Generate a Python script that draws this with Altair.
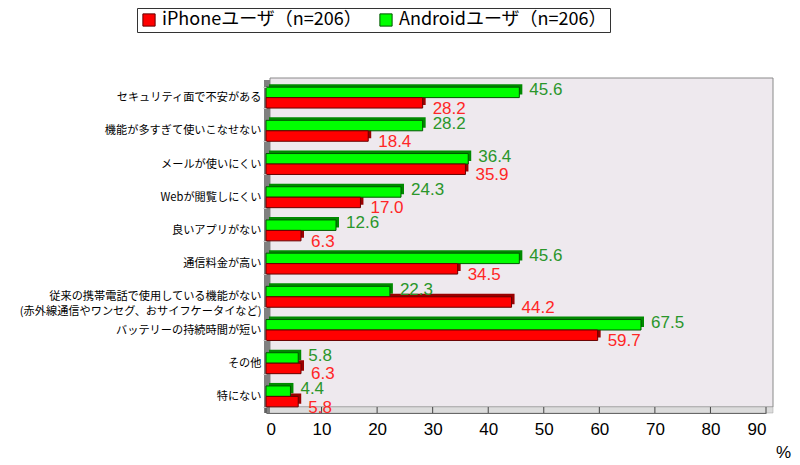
import altair as alt
import pandas as pd

categories = [
    "セキュリティ面で不安がある",
    "機能が多すぎて使いこなせない",
    "メールが使いにくい",
    "Webが閲覧しにくい",
    "良いアプリがない",
    "通信料金が高い",
    "従来の携帯電話で使用している機能がない\n(赤外線通信やワンセグ、おサイフケータイなど)",
    "バッテリーの持続時間が短い",
    "その他",
    "特にない",
]
iphone = [28.2, 18.4, 35.9, 17.0, 6.3, 34.5, 44.2, 59.7, 6.3, 5.8]
android = [45.6, 28.2, 36.4, 24.3, 12.6, 45.6, 22.3, 67.5, 5.8, 4.4]
series_names = ["iPhoneユーザ（n=206）", "Androidユーザ（n=206）"]
x_ticks = [0, 10, 20, 30, 40, 50, 60, 70, 80, 90]

df = pd.concat([
    pd.DataFrame({"category": categories, "value": android, "series": series_names[1]}),
    pd.DataFrame({"category": categories, "value": iphone, "series": series_names[0]}),
], ignore_index=True)
df_ticks = pd.DataFrame({"t": x_ticks})
one = pd.DataFrame({"a": [0]})

W, H = 500, 332
PAD_IN = 0.37
STEP = H / (len(categories) - PAD_IN + 2 * 0.185)
GROUP = STEP * (1 - PAD_IN)
xscale = alt.Scale(domain=[0, 90], nice=False, zero=True)
yscale = alt.Scale(paddingInner=PAD_IN, paddingOuter=0.185)
off_order = [series_names[1], series_names[0]]
offscale = alt.Scale(domain=off_order, paddingInner=0, paddingOuter=0)
sidescale = alt.Scale(domain=off_order, paddingInner=0, paddingOuter=0, range=[-3, GROUP - 3])

x_axis = alt.Axis(
    values=x_ticks, grid=False, ticks=False, domain=True, domainColor="#555555",
    labelFont="Liberation Sans", labelFontSize=17, labelColor="#000000", labelPadding=8,
    title="%", titleFont="Liberation Sans", titleFontSize=17, titleFontWeight="normal",
    titleColor="#000000", titleX=517, titleY=39, titleAlign="center", titleBaseline="middle",
)
y_axis = alt.Axis(
    title=None, domain=False, ticks=True, tickBand="extent", tickSize=3, tickColor="#c0c0c0",
    labelFont="Noto Sans CJK JP", labelFontSize=11.2,
    labelColor="#000000", labelPadding=2, labelLimit=400, labelLineHeight=15,
    labelExpr="split(datum.label, '\\n')", zindex=1,
)

def X():
    return alt.X("value:Q", scale=xscale, axis=x_axis)

def Y():
    return alt.Y("category:N", sort=categories, scale=yscale, axis=y_axis)

def YO(scale):
    return alt.YOffset("series:N", scale=scale, sort=off_order)

back = alt.Chart(one).mark_rect(fill="#EEE9EE", stroke="#8a8a8a", strokeWidth=1).encode(
    x=alt.value(4), x2=alt.value(507), y=alt.value(-3), y2=alt.value(326))
floor = alt.Chart(one).mark_rect(fill="#dcdcdc", stroke="#a0a0a0", strokeWidth=0.5).encode(
    x=alt.value(0), x2=alt.value(507), y=alt.value(326), y2=alt.value(332))
leftwall = alt.Chart(one).mark_rect(fill="#808080").encode(
    x=alt.value(-2), x2=alt.value(4), y=alt.value(-1), y2=alt.value(332))
tickrules = alt.Chart(df_ticks).mark_rule(color="#444444", strokeWidth=1).encode(
    x=alt.X("t:Q", scale=xscale, axis=x_axis), y=alt.value(326), y2=alt.value(332))

color = alt.Color(
    "series:N",
    scale=alt.Scale(domain=series_names, range=["#FF0000", "#00FF00"]),
    legend=alt.Legend(
        title=None, orient="none", legendX=-129, legendY=-73, direction="horizontal",
        symbolType="square", symbolSize=150, symbolStrokeColor="#000000", symbolStrokeWidth=1,
        symbolOpacity=1, labelFont="Noto Sans CJK JP", labelFontSize=18, labelColor="#000000",
        labelLimit=400, columnPadding=14, labelOffset=4, strokeColor="#333333", fillColor="#FFFFFF",
        padding=3,
    ),
)

side_a = alt.Chart(df).transform_filter(alt.datum.series == series_names[1]).mark_bar(
    xOffset=3, x2Offset=3, color="#008a00").encode(x=X(), y=Y(), yOffset=YO(sidescale))
side_i = alt.Chart(df).transform_filter(alt.datum.series == series_names[0]).mark_bar(
    xOffset=3, x2Offset=3, color="#9a0000").encode(x=X(), y=Y(), yOffset=YO(sidescale))
sides = alt.layer(side_a, side_i)

main = alt.Chart(df).mark_bar(strokeWidth=1).encode(
    x=X(), y=Y(), yOffset=YO(offscale), color=color,
    stroke=alt.Stroke("series:N", scale=alt.Scale(domain=series_names, range=["#660000", "#005500"]), legend=None),
)

txt_a = alt.Chart(df).transform_filter(alt.datum.series == series_names[1]).mark_text(
    align="left", baseline="middle", dx=10, dy=-2, font="Liberation Sans", fontSize=17,
    color="#2a962a").encode(x=X(), y=Y(), yOffset=YO(offscale), text=alt.Text("value:Q", format=".1f"))
txt_i = alt.Chart(df).transform_filter(alt.datum.series == series_names[0]).mark_text(
    align="left", baseline="middle", dx=10, dy=6, font="Liberation Sans", fontSize=17,
    color="#ff2626").encode(x=X(), y=Y(), yOffset=YO(offscale), text=alt.Text("value:Q", format=".1f"))
fronts = alt.layer(main, txt_a, txt_i)

chart = alt.layer(back, floor, leftwall, tickrules, sides, fronts).resolve_scale(
    yOffset="independent"
).properties(
    width=W, height=H,
    autosize=alt.AutoSizeParams(type="none"),
    padding={"left": 258, "top": 73, "right": 26, "bottom": 52},
    background="#FFFFFF",
).configure_view(stroke=None)

chart.save("out.html", embed_options={"renderer": "svg", "actions": False})
